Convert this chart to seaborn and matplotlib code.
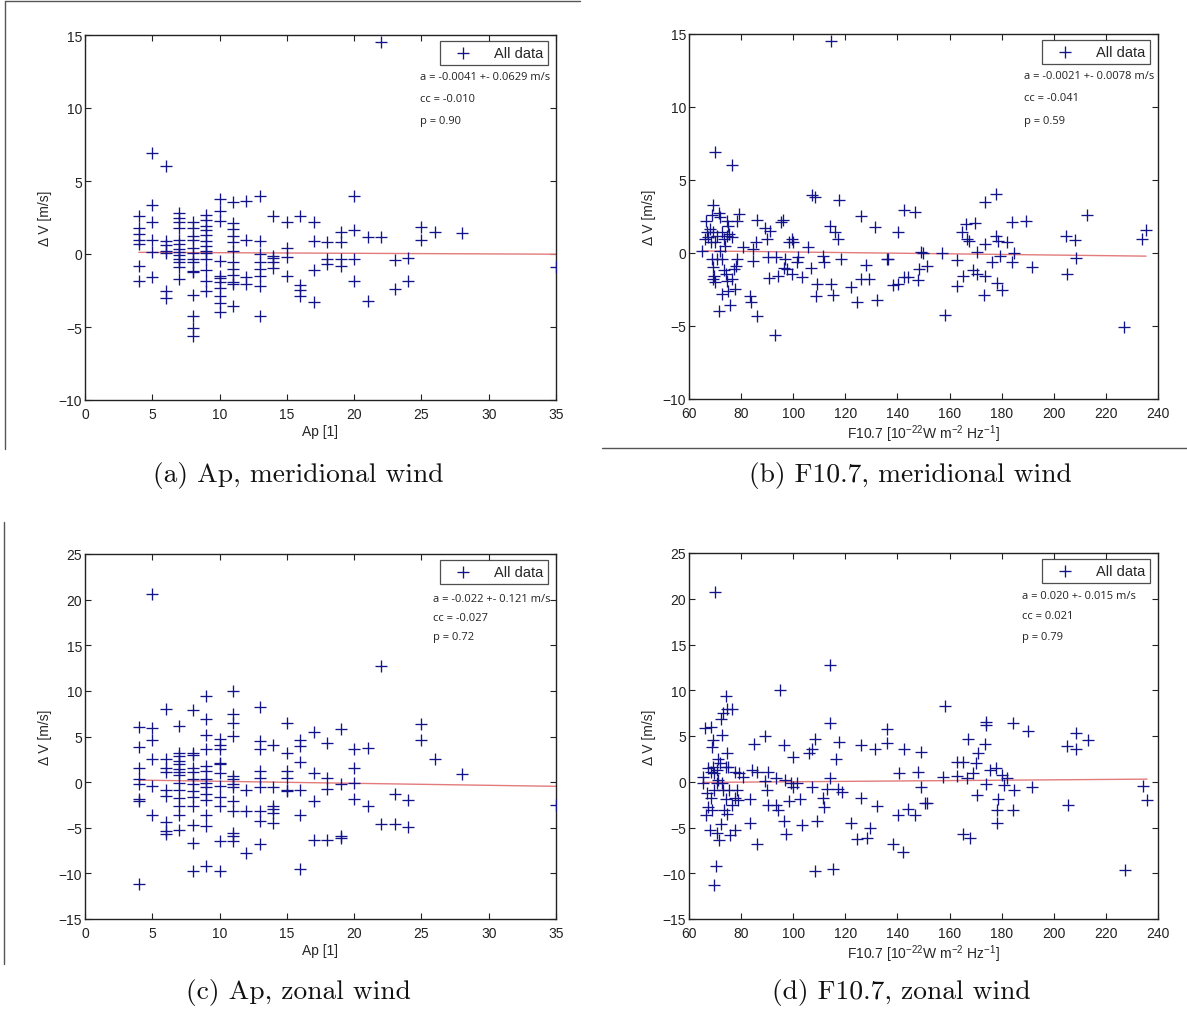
import matplotlib
matplotlib.use("Agg")
import matplotlib.pyplot as plt
from matplotlib.lines import Line2D
import seaborn as sns
import pandas as pd

# ---------------- data ----------------
# (a) Ap vs meridional wind difference
ap_a = [4, 4, 4, 4, 4, 4, 4,
        5, 5, 5, 5, 5, 5,
        6, 6, 6, 6, 6, 6, 6,
        7, 7, 7, 7, 7, 7, 7, 7, 7, 7, 7, 7, 7,
        8, 8, 8, 8, 8, 8, 8, 8, 8, 8, 8, 8, 8, 8,
        9, 9, 9, 9, 9, 9, 9, 9, 9, 9, 9, 9, 9,
        10, 10, 10, 10, 10, 10, 10, 10, 10, 10, 10,
        11, 11, 11, 11, 11, 11, 11, 11, 11, 11, 11, 11,
        12, 12, 12, 12,
        13, 13, 13, 13, 13, 13, 13, 13,
        14, 14, 14, 14, 14,
        15, 15, 15, 15,
        16, 16, 16, 16,
        17, 17, 17, 17,
        18, 18, 18,
        19, 19, 19, 19,
        20, 20, 20, 20,
        21, 21, 22, 22, 23, 23, 24, 24, 25, 25, 26, 28, 35]
dv_a = [2.58, 1.76, 1.39, 0.98, 0.68, -0.84, -1.83,
        6.9, 3.36, 2.17, 0.98, 0.16, -1.6,
        6.0, 0.89, 0.62, 0.23, 0.07, -2.56, -2.99,
        2.79, 2.47, 2.17, 1.78, 0.94, 0.66, 0.34, 0.11, -0.05, -0.34, -0.57, -0.87, -1.71,
        2.17, 1.76, 1.21, 0.98, 0.39, 0.07, -0.34, -0.53, -1.14, -1.26, -2.81, -4.27, -5.09, -5.59,
        2.69, 2.33, 1.94, 1.64, 1.30, 0.91, 0.57, 0.23, 0.07, -0.34, -1.07, -1.83, -2.51,
        3.77, 2.97, 2.26, -0.50, -1.48, -1.62, -1.94, -2.35, -2.85, -3.36, -4.0,
        3.58, 2.12, 1.71, 1.21, 0.80, 0.23, -0.53, -1.03, -1.44, -1.94, -2.05, -3.54,
        3.65, 0.98, -1.6, -2.05,
        3.95, 0.91, 0.0, -0.57, -1.03, -1.53, -2.17, -4.22,
        2.58, -0.11, -0.30, -0.57, -0.96,
        2.17, 0.41, -0.23, -1.48,
        2.58, -2.12, -2.44, -2.85,
        2.21, 0.89, -1.12, -3.31,
        0.80, -0.34, -0.70,
        1.48, 0.80, -0.34, -0.80,
        4.0, 1.67, -0.34, -1.83,
        1.14, -3.20, 14.5, 1.14, -0.39, -2.40, -0.30, -1.83, 1.85, 0.96, 1.53, 1.44, -0.91]

# (b) F10.7 vs meridional wind difference
f107_b = [70.0, 76.6, 69.1, 69.0, 71.6, 71.9, 66.4, 74.7, 75.1, 78.5, 79.3, 66.1, 66.8, 67.4,
          68.1, 68.3, 69.3, 70.0, 70.6, 72.5, 73.4, 73.9, 74.5, 75.5, 76.4, 64.9,
          68.7, 69.1, 69.6, 69.3, 70.0, 70.9, 71.9, 72.5, 73.4, 74.2, 74.7, 75.1, 72.5, 71.6,
          75.7, 76.4, 77.6, 78.3, 77.9, 77.3,
          80.6, 84.4, 84.7, 85.7, 86.2, 83.4, 83.7, 86.0,
          89.2, 89.8, 91.1, 90.2, 90.8, 93.4, 94.0, 93.0, 95.2, 96.0,
          96.8, 96.4, 97.5, 98.5, 99.4, 99.8, 99.4, 101.3, 102.0, 103.2,
          105.8, 106.7, 107.1, 108.4, 109.0, 108.7, 111.3, 111.9, 114.1, 114.4, 115.1, 114.4,
          116.0, 117.3, 117.5, 118.4,
          122.0, 124.5, 126.2, 126.2, 127.9, 129.2, 131.4, 132.3, 135.8, 136.5, 138.4, 140.3, 140.3,
          142.6, 146.8, 142.6, 144.2, 148.0, 148.4, 151.2, 148.9, 149.9, 157.0, 158.2, 163.0,
          163.0, 164.6, 166.8, 167.6, 166.3, 169.7, 165.2, 168.9, 170.4, 170.6, 173.5, 177.8,
          173.5, 173.5, 173.2, 176.1, 178.0, 178.6, 182.1, 179.5, 178.3, 180.3, 184.1, 184.1,
          184.6, 189.5, 191.8, 204.5, 208.0, 208.4, 205.0, 212.7, 227.1, 233.9, 235.4]
dv_b = [6.9, 6.0, 3.3, 2.6, 2.76, 2.5, 2.17, 2.17, 1.87, 2.17, 2.65, 0.96, 1.42, 1.07,
        1.64, 0.73, 1.42, 0.73, 1.19, 1.42, 0.96, 0.5, 1.19, 1.3, 1.07, 0.16,
        -0.41, -0.98, -1.55, -1.78, -2.0, -0.41, 0.16, -0.41, -1.14, -1.44, -1.9, -2.58, -2.8, -3.95,
        -3.56, -1.78, -2.47, -0.41, -0.87, -1.1,
        0.39, 0.27, -0.53, 0.78, 2.28, -2.92, -3.33, -4.34,
        1.69, 0.96, 1.53, -0.25, -1.74, -0.25, -1.55, -5.6, 2.1, 2.26,
        -0.41, -1.05, -1.1, 0.73, 0.96, 0.78, -1.44, -0.64, -0.3, -1.67,
        0.39, -1.05, 3.97, 3.81, -2.12, -2.92, -0.18, -0.64, 1.83, -2.12, -2.85, 14.5,
        1.46, 0.96, 3.65, -0.41,
        -2.35, -3.33, 2.56, -1.78, -0.82, -1.78, 1.76, -3.2, -0.41, -0.41, -2.19, -2.12, 1.42,
        2.95, 2.83, -1.67, -1.67, -1.83, -1.1, -0.87, 0.09, 0.0, 0.0, -4.25, -0.46,
        -2.24, 1.42, 0.96, 0.84, 1.99, 2.05, -1.6, -1.14, -1.44, 0.05, 3.52, 4.04,
        0.62, -1.6, -2.85, -0.64, 1.19, 0.8, 0.73, -0.23, -2.05, -2.53, 2.15, -0.64,
        0.0, 2.21, -0.98, 1.19, 0.91, -0.37, -1.44, 2.6, -5.09, 0.96, 1.58]

# (c) Ap vs zonal wind difference
ap_c = [4, 4, 4, 4, 4, 4, 4, 4,
        5, 5, 5, 5, 5, 5,
        6, 6, 6, 6, 6, 6, 6, 6, 6,
        7, 7, 7, 7, 7, 7, 7, 7, 7, 7, 7, 7, 7, 7,
        8, 8, 8, 8, 8, 8, 8, 8, 8, 8, 8, 8, 8,
        9, 9, 9, 9, 9, 9, 9, 9, 9, 9, 9, 9, 9, 9,
        10, 10, 10, 10, 10, 10, 10, 10, 10, 10, 10,
        11, 11, 11, 11, 11, 11, 11, 11, 11, 11, 11, 11, 11,
        12, 12, 12,
        13, 13, 13, 13, 13, 13, 13, 13, 13,
        14, 14, 14, 14, 14, 14,
        15, 15, 15, 15, 15, 15,
        16, 16, 16, 16, 16, 16,
        17, 17, 17, 17,
        18, 18, 18, 18,
        19, 19, 19, 19,
        20, 20, 20, 20,
        21, 21, 22, 22, 23, 23, 24, 24, 25, 25, 26, 28, 35]
dv_c = [6.09, 3.85, 1.50, 0.29, -0.26, -1.83, -2.09, -11.2,
        20.6, 5.9, 4.62, 2.57, -0.44, -3.56,
        8.0, 2.49, 1.58, 1.1, -0.81, -1.47, -4.4, -5.39, -5.65,
        6.16, 3.23, 2.86, 2.31, 1.94, 1.39, 1.1, 0.73, -0.07, -0.81, -1.72, -2.64, -3.56, -5.21,
        7.88, 3.15, 2.93, 1.58, 1.1, 0.37, -0.26, -0.99, -1.61, -2.64, -4.66, -6.67, -9.72,
        9.46, 6.89, 5.13, 3.59, 1.76, 1.21, 0.37, -0.07, -0.51, -1.25, -1.91, -3.56, -4.77, -9.17,
        4.69, 4.03, 3.59, 2.13, 1.94, 0.95, -0.37, -1.61, -2.57, -6.49, -9.79,
        10.0, 7.52, 6.45, 5.06, 0.66, 0.37, -0.26, -0.51, -2.09, -3.19, -5.57, -5.94, -6.49,
        -0.81, -3.19, -7.77,
        8.18, 4.51, 3.59, 1.21, 0.48, -0.51, -3.19, -4.29, -6.75,
        4.03, -0.51, -2.57, -2.93, -3.37, -4.47,
        6.45, 3.15, 1.21, 0.48, -0.88, -0.99,
        4.62, 3.96, 2.2, -0.81, -3.56, -9.53,
        5.5, 0.95, -2.09, -6.31,
        4.33, 0.48, -0.73, -6.31,
        5.79, -0.26, -5.87, -6.12,
        3.67, 1.5, -0.07, -1.83,
        3.78, -2.64, 12.76, -4.55, -1.25, -4.55, -1.98, -4.91, 6.34, 4.62, 2.57, 0.84, -2.46]

# (d) F10.7 vs zonal wind difference
f107_d = [70.0, 114.1, 94.9, 74.2, 74.7, 76.4, 73.2, 72.3, 66.1, 68.4, 69.1, 68.7, 72.8,
          89.2, 84.9, 96.4, 99.8, 108.4, 107.1, 106.2, 114.1, 117.5, 116.3, 126.2, 131.4,
          135.8, 136.1, 114.1,
          71.0, 71.9, 74.7, 75.1, 74.2, 67.4, 68.3, 69.6, 70.6, 69.1, 77.6, 79.3, 80.8, 84.3,
          86.0, 90.4, 93.4, 96.8, 99.0, 100.0, 101.3, 65.5, 65.2,
          66.8, 67.4, 66.5, 68.3, 68.7, 69.6, 70.6, 71.3, 72.5, 73.2, 74.2, 74.7, 73.6, 75.5,
          76.4, 77.6, 78.3, 78.9, 68.1, 70.9, 71.4, 72.3, 75.7, 77.6, 70.4, 69.6,
          83.4, 83.4, 86.0, 89.2, 89.8, 90.4, 93.3, 94.0, 96.4, 97.2, 98.3, 102.6, 103.2,
          107.1, 109.3, 108.4, 111.3, 111.9, 113.0, 115.1, 117.3, 118.6, 122.0, 124.3, 126.2,
          128.2, 129.4, 132.3, 138.4, 140.3, 140.7, 142.0,
          142.6, 144.2, 146.8, 148.0, 148.9, 148.9, 150.6, 151.5, 158.2, 157.3, 163.0, 163.0,
          165.0, 165.0, 167.8, 167.2, 166.8, 169.1, 170.1, 171.0, 170.4, 173.9, 173.9, 173.5,
          173.9, 175.7, 177.8, 180.0, 180.8, 182.1, 178.6, 178.3, 178.3, 184.6, 184.4, 184.4,
          190.1, 191.8, 205.0, 208.6, 208.6, 213.1, 205.4, 227.5, 234.1, 235.8]
dv_d = [20.7, 12.77, 10.04, 9.42, 7.92, 7.96, 7.48, 6.82, 5.91, 6.02, 4.56, 3.83, 5.11,
        5.04, 4.12, 4.01, 2.74, 4.64, 3.54, 3.18, 6.39, 4.38, 2.45, 4.01, 3.54,
        5.73, 4.27, 0.44,
        2.45, 2.01, 3.1, 1.64, 1.57, 1.46, 1.09, 0.91, 1.28, 1.64, 1.09, 0.99, 0.55, 1.28,
        1.09, 1.09, 0.44, 0.18, -0.18, -0.55, -0.18, -0.18, 0.55,
        -1.28, -2.74, -3.65, -1.82, -3.1, -0.91, -0.18, 0.18, -0.18, -0.91, -1.93, -3.47, -3.1, -0.91,
        -2.55, -1.82, -0.91, -2.01, -5.29, -5.58, -6.39, -4.64, -5.84, -5.29, -9.23, -11.24,
        -1.93, -4.49, -6.75, 0.11, -0.91, -2.55, -2.55, -3.1, -4.27, -5.66, -2.08, -1.93, -4.74,
        -0.62, -4.27, -9.74, -1.82, -2.74, -0.84, -9.49, -0.84, -1.09, -4.56, -6.31, -1.82,
        -6.2, -5.0, -2.66, -6.82, -3.65, 0.91, -7.7,
        3.61, -3.03, -3.65, 1.06, -0.55, 3.25, -2.3, -2.37, 8.28, 0.55, 0.62, 2.19,
        2.19, -5.66, -6.13, 4.64, 0.44, 0.99, 2.08, 3.1, -1.5, 6.53, 6.17, 4.09,
        -0.29, 1.28, 1.53, 0.69, -0.4, 0.4, -1.93, -3.1, -4.56, -0.91, -3.1, 6.46,
        5.55, -0.55, 3.9, 3.61, 5.29, 4.53, -2.59, -9.6, -0.47, -2.0]

# linear fit lines as drawn (slope, intercept)
fit_a = (-0.0041, 0.13)
fit_b = (-0.0021, 0.28)
fit_c = (-0.022, 0.31)
fit_d = (0.0021, -0.21)

annot_a = ["a = -0.0041 +- 0.0629 m/s", "cc = -0.010", "p = 0.90"]
annot_b = ["a = -0.0021 +- 0.0078 m/s", "cc = -0.041", "p = 0.59"]
annot_c = ["a = -0.022 +- 0.121 m/s", "cc = -0.027", "p = 0.72"]
annot_d = ["a = 0.020 +- 0.015 m/s", "cc = 0.021", "p = 0.79"]

captions = ["(a) Ap, meridional wind", "(b) F10.7, meridional wind",
            "(c) Ap, zonal wind", "(d) F10.7, zonal wind"]

xlabel_ap = "Ap [1]"
xlabel_f = r"F10.7 [10$^{-22}$W m$^{-2}$ Hz$^{-1}$]"
ylabel = "\u0394 V [m/s]"

# ---------------- style ----------------
sns.set_style("white")
plt.rcParams.update({
    "font.family": ["Liberation Sans", "DejaVu Sans"],
    "mathtext.fontset": "custom",
    "mathtext.rm": "Liberation Sans",
    "mathtext.it": "Liberation Sans:italic",
    "xtick.direction": "in",
    "ytick.direction": "in",
    "xtick.bottom": True,
    "ytick.left": True,
    "xtick.top": True,
    "ytick.right": True,
    "xtick.major.size": 4.5,
    "ytick.major.size": 4.5,
    "xtick.major.width": 0.8,
    "ytick.major.width": 0.8,
    "xtick.color": "#222222",
    "ytick.color": "#222222",
    "xtick.labelsize": 10,
    "ytick.labelsize": 10,
    "axes.edgecolor": "#222222",
    "axes.linewidth": 1.0,
})

W, H = 1187, 1012
fig = plt.figure(figsize=(W / 100, H / 100), dpi=100)

def rect(l, t, r, b):
    return [l / W, 1 - b / H, (r - l) / W, (b - t) / H]

MARK = "#14148a"
LINE = "#e37b7b"

panels = [
    dict(pos=rect(85, 36, 556, 401), x=ap_a, y=dv_a, fit=fit_a, xlim=(0, 35), xt=range(0, 36, 5),
         ylim=(-10, 15), yt=range(-10, 16, 5), xl=xlabel_ap, ann=annot_a, ax0=0.711, ay=[0.885, 0.826, 0.767]),
    dict(pos=rect(689, 35, 1158, 400), x=f107_b, y=dv_b, fit=fit_b, xlim=(60, 240), xt=range(60, 241, 20),
         ylim=(-10, 15), yt=range(-10, 16, 5), xl=xlabel_f, ann=annot_b, ax0=0.714, ay=[0.885, 0.825, 0.764]),
    dict(pos=rect(85, 555, 556, 920), x=ap_c, y=dv_c, fit=fit_c, xlim=(0, 35), xt=range(0, 36, 5),
         ylim=(-15, 25), yt=range(-15, 26, 5), xl=xlabel_ap, ann=annot_c, ax0=0.739, ay=[0.877, 0.827, 0.773]),
    dict(pos=rect(689, 554, 1158, 920), x=f107_d, y=dv_d, fit=fit_d, xlim=(60, 240), xt=range(60, 241, 20),
         ylim=(-15, 25), yt=range(-15, 26, 5), xl=xlabel_f, ann=annot_d, ax0=0.71, ay=[0.885, 0.830, 0.773]),
]

for p in panels:
    ax = fig.add_axes(p["pos"])
    df = pd.DataFrame({"x": p["x"], "y": p["y"]})
    sns.scatterplot(data=df, x="x", y="y", ax=ax, marker="+", color=MARK, s=64,
                    linewidth=0.95, label="All data", zorder=3)
    a, b = p["fit"]
    x0, x1 = min(p["x"]), max(p["x"])
    fdf = pd.DataFrame({"x": [x0, x1], "y": [b + a * x0, b + a * x1]})
    sns.lineplot(data=fdf, x="x", y="y", ax=ax, color=LINE, linewidth=1.0, legend=False, zorder=2)
    ax.set_xlim(*p["xlim"])
    ax.set_ylim(*p["ylim"])
    ax.set_xticks(list(p["xt"]))
    ax.set_yticks(list(p["yt"]))
    ax.tick_params(axis="x", which="major", pad=5)
    ax.tick_params(axis="y", which="major", pad=2)
    ax.set_xlabel(p["xl"], fontsize=10, labelpad=2)
    ax.set_ylabel(ylabel, fontsize=10, labelpad=5)
    for s in ax.spines.values():
        s.set_visible(True)
    h, l = ax.get_legend_handles_labels()
    leg = ax.legend(h[:1], l[:1], loc="upper right", bbox_to_anchor=(0.983, 0.984),
                    fontsize=10.5, frameon=True, fancybox=False, edgecolor="#222222",
                    borderpad=0.35, handlelength=2.4, handletextpad=0.9, borderaxespad=0)
    leg.get_frame().set_linewidth(0.9)
    for t, yy in zip(p["ann"], p["ay"]):
        ax.text(p["ax0"], yy, t, transform=ax.transAxes, fontsize=8, va="center", ha="left",
                color="#222222", family=["Open Sans", "DejaVu Sans"])

# captions (LaTeX-like serif)
cap_pos = [(298, 476), (910, 476), (298, 993), (901, 993)]
for c, (cx, cy) in zip(captions, cap_pos):
    fig.text(cx / W, 1 - cy / H, c, ha="center", va="center", fontsize=19.8,
             family=["cmr10", "DejaVu Serif"], color="#111111")

# page-crop border lines from the source document
segs = [((5, 2), (580, 2)), ((5, 2), (5, 450)), ((602, 449), (1187, 449)), ((4, 523), (4, 965))]
for (xa, ya), (xb, yb) in segs:
    fig.add_artist(Line2D([xa / W, xb / W], [1 - ya / H, 1 - yb / H], transform=fig.transFigure,
                          color="#555555", linewidth=1.0))

fig.savefig("out.png", dpi=100, facecolor="white")
